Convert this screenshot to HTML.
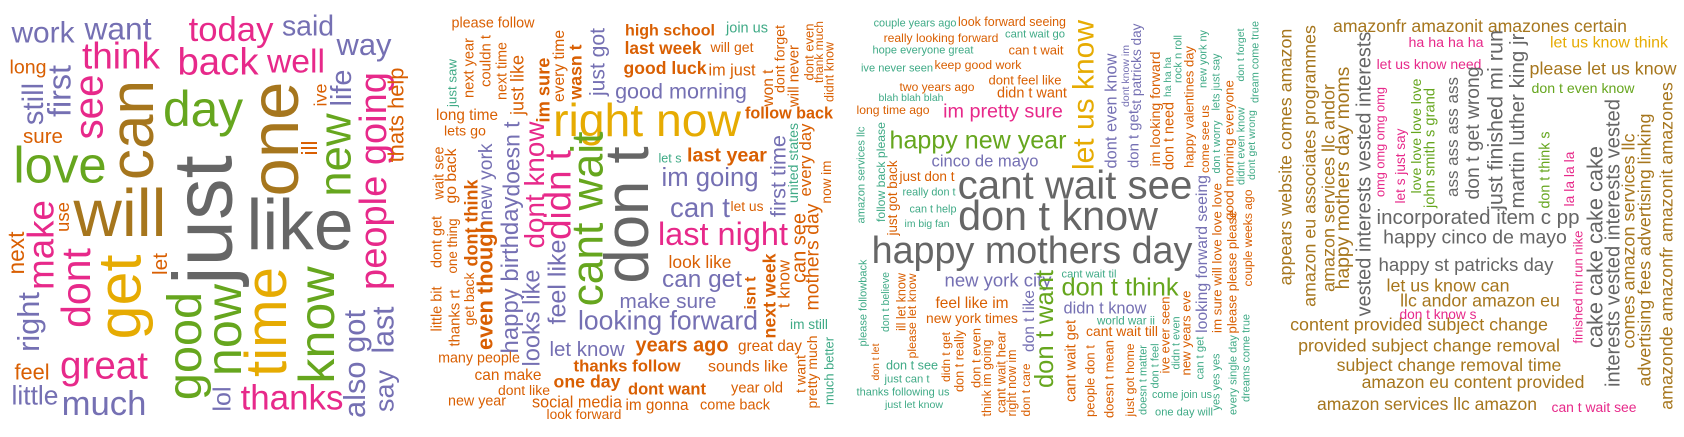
<!DOCTYPE html>
<html>
<head>
<meta charset="utf-8">
<style>
  html,body{margin:0;padding:0;background:#fff;}
  #wc{position:relative;width:1684px;height:437px;overflow:hidden;background:#fff;font-family:"Liberation Sans",Arial,sans-serif;}
  .w{position:absolute;white-space:nowrap;line-height:1;transform-origin:50% 50%;}
</style>
</head>
<body>
<div id="wc"></div>
<script>
const palette = {G:"#666666",B:"#A6761D",Y:"#E6AB02",N:"#66A61E",P:"#E7298A",U:"#7570B3",O:"#D95F02",T:"#3FAA86"};
// [text, centerX, centerY, lengthPx, color, vertical, bold]
const panel1Words = [
["work",43,36,63,"U",0],["want",118,32,67,"U",0],["think",121,60,78,"P",0],["today",231,33,85,"P",0],
["said",308,29,52,"U",0],["way",364,48,55,"U",0],["back",218,66,81,"P",0],["well",296,65,58,"P",0],
["long",28,70,37,"O",0],["still",37,104,42,"U",1],["first",62,91,52,"U",1],["see",92,107,65,"P",1],
["can",138,130,100,"B",1],["day",203,114,80,"N",0],["one",281,139,115,"B",1],["ive",323,95,23,"O",1],
["life",345,88,37,"U",1],["people going",377,181,218,"P",1],["thats help",398,115,95,"O",1],["ill",312,148,15,"O",1],
["new",339,155,83,"N",1],["love",60,170,93,"N",0],["sure",43,139,40,"O",0],["just",210,220,130,"G",1],
["like",300,232,107,"G",0],["will",120,220,93,"B",0],["use",65,217,30,"O",1],["make",45,245,90,"P",1],
["next",18,253,43,"O",1],["dont",80,288,80,"P",1],["get",125,297,85,"Y",1],["let",163,264,22,"O",1],
["right",32,322,60,"U",1],["good",189,346,108,"N",1],["now",228,330,92,"N",1],["time",272,322,110,"Y",1],
["know",321,325,117,"N",1],["also got",358,364,108,"U",1],["last",387,330,47,"U",1],["say",387,391,42,"U",1],
["great",104,370,88,"P",0],["feel",32,374,35,"O",0],["little",35,398,47,"U",0],["much",104,407,85,"U",0],
["lol",225,399,25,"U",1],["thanks",292,402,103,"P",0]
];
const panel2Words = [
["please follow",493,25,83,"O",0],["just saw",453,83,48,"T",1],["next year",471,68,60,"O",1],["couldn t",488,61,52,"O",1],
["next time",504,71,58,"O",1],["just like",519,85,60,"O",1],["long time",467,117,62,"O",0],["lets go",465,133,42,"O",0],
["im sure",545,90,65,"O",1,1],["every time",561,66,72,"O",1],["wasn t",578,72,55,"O",1,1],["just got",600,62,68,"U",1],
["high school",670,32,90,"O",0,1],["join us",747,30,42,"T",0],["last week",663,50,77,"O",0,1],["will get",732,48,43,"O",0],
["good luck",665,70,83,"O",0,1],["im just",732,72,47,"O",0],["won t",770,88,37,"O",1],["dont forget",782,59,68,"O",1],
["good morning",681,93,132,"U",0],["right now",647,124,188,"Y",0],["follow back",789,115,88,"O",0,1],
["wait see",441,173,53,"O",1],["go back",453,176,55,"O",1],["dont think",473,223,87,"O",1,1],["new york",488,182,77,"U",1],
["doesn t",514,159,75,"U",1],["happy birthday",513,275,157,"U",1],["dont know",537,185,127,"P",1],["didn t",562,195,90,"P",1],
["feel like",560,282,85,"U",1],["cant wait",592,219,175,"N",1],["don t",633,215,137,"G",1],["little bit",439,309,45,"O",1],
["dont get",439,242,52,"O",1],["one thing",454,246,55,"O",1],["thanks rt",457,318,57,"O",1],["get back",470,299,53,"O",1],
["even though",487,285,130,"O",1,1],["looks like",535,318,97,"U",1],["let s",670,160,23,"T",0],["last year",727,158,80,"O",0,1],
["im going",710,181,97,"U",0],["can t",700,210,60,"U",0],["let us",747,208,33,"O",0],["first time",780,176,82,"U",1],
["last night",723,237,130,"P",0],["look like",700,264,63,"O",0],["can get",702,282,80,"U",0],["isn t",752,293,33,"O",1,1],
["next week",772,296,85,"O",1,1],["t know",786,284,48,"O",1],["make sure",668,304,97,"U",0],["looking forward",668,323,180,"U",0],
["let know",587,352,75,"U",0],["years ago",682,348,93,"O",0,1],["thanks follow",627,368,107,"O",0,1],["sounds like",748,369,80,"O",0],
["many people",479,360,82,"O",0],["can make",508,377,67,"O",0],["one day",587,384,67,"O",0,1],["dont like",524,391,52,"O",0],
["dont want",667,391,78,"O",0,1],["year old",757,390,52,"O",0],["new year",477,403,58,"O",0],["social media",577,404,90,"O",0],
["look forward",584,416,75,"O",0],["im gonna",657,407,63,"O",0],["come back",735,407,70,"O",0]
];
const panel3Words = [
["will never",796,76,62,"O",1],["dont even",810,52,57,"O",1],["thank much",820,52,62,"O",1],["didnt know",831,72,60,"O",1],
["united states",794,163,80,"T",1],["every day",808,160,73,"O",1],["now im",828,182,43,"O",1],["can see",801,248,70,"O",1],
["mothers day",815,257,107,"O",1],["im still",809,326,38,"T",0],["great day",770,348,64,"O",0],["t want",803,374,38,"O",1],
["pretty much",813,372,73,"O",1],["much better",831,371,68,"T",1],
["couple years ago",915,25,83,"T",0],["look forward seeing",1012,23,108,"O",0],["really looking forward",941,39,115,"O",0],
["cant wait go",1035,36,60,"T",0],["hope everyone great",923,52,101,"T",0],["can t wait",1036,51,55,"O",0],
["ive never seen",897,70,72,"T",0],["keep good work",978,66,87,"O",0],["dont feel like",1025,81,73,"O",0],
["two years ago",937,88,75,"O",0],["didn t want",1032,95,70,"O",0],["blah blah blah",911,100,65,"T",0],
["long time ago",893,111,73,"O",0],["im pretty sure",1003,114,120,"P",0],["let us know",1087,95,150,"Y",1],
["dont even know",1113,111,115,"U",1],["dont know im",1127,76,62,"U",1],["st patricks day",1138,67,87,"U",1],
["don t get",1136,139,58,"U",1],["im looking forward",1157,109,115,"O",1],["ha ha ha",1170,77,40,"T",1],
["rock n roll",1180,59,48,"T",1],["don t need",1171,136,68,"O",1],["happy new year",978,143,177,"N",0],
["cinco de mayo",985,163,107,"U",0],["amazon services llc",863,175,97,"T",1],["follow back please",882,172,100,"T",1],
["just got back",894,198,75,"O",1],["just don t",927,178,55,"O",0],["really don t",929,194,53,"T",0],
["can t help",933,211,47,"T",0],["im big fan",927,226,45,"T",0],["cant wait see",1075,189,235,"G",0],
["don t know",1058,220,200,"G",0],["happy mothers day",1032,254,321,"G",0],["please followback",865,303,87,"T",1],
["don t believe",887,302,60,"T",1],["ill let know",903,302,58,"O",1],["please let know",913,316,85,"O",1],
["new york city",998,282,107,"U",0],["feel like im",972,305,73,"O",0],["new york times",972,320,92,"O",0],
["don t let",878,362,37,"O",1],["don t see",912,367,52,"T",0],["just can t",907,381,45,"T",0],
["thanks following us",903,394,93,"T",0],["just let know",914,406,58,"T",0],["didn t get",947,357,50,"O",1],
["don t really",961,361,62,"O",1],["don t even",978,358,60,"O",1],["think im going",988,378,77,"O",1],
["cant wait hear",1002,372,82,"O",1],["right now im",1013,383,67,"O",1],["don t like",1031,321,62,"U",1],
["don t care",1028,390,53,"O",1],["don t want",1048,329,118,"N",1],["cant wait til",1089,276,55,"T",0],
["don t think",1120,290,117,"N",0],["didn t know",1105,310,83,"U",0],["world war ii",1126,322,58,"T",0],
["cant wait till",1122,333,72,"O",0],["cant wait get",1073,361,82,"O",1],["people don t",1091,381,72,"O",1],
["doesn t mean",1111,379,78,"O",1],["just got home",1131,380,73,"O",1],["doesn t matter",1145,380,70,"T",1],
["don t feel",1157,366,45,"T",1],["ive ever seen",1167,335,77,"O",1],["didn t even",1178,343,53,"T",1],
["come join us",1182,396,60,"T",0],["one day will",1184,414,58,"T",0]
];
const panel4Words = [
["happy valentines day",1190,107,122,"O",1],["new york ny",1205,59,58,"T",1],["come see us",1206,139,68,"O",1],
["lets just say",1218,82,57,"T",1],["don t worry",1218,147,53,"T",1],["good morning everyone",1230,150,140,"O",1],
["don t forget",1243,55,53,"T",1],["didnt even know",1243,146,78,"T",1],["dream come true",1257,62,82,"T",1],
["dont get wrong",1253,145,70,"T",1],["couple weeks ago",1249,238,97,"O",1],["please please please",1233,272,123,"O",1],
["looking forward seeing",1204,254,158,"U",1],["im sure will love love love",1218,258,150,"O",1],["new years eve",1187,333,85,"O",1],
["can t get",1202,358,43,"T",1],["yes yes yes",1218,382,57,"T",1],["every single day",1235,375,80,"T",1],
["dreams come true",1248,358,88,"T",1],
["appears website comes amazon",1288,157,257,"B",1],["amazon eu associates programmes",1312,166,282,"B",1],
["amazon services llc andor",1330,188,208,"B",1],["happy mothers day moms",1345,178,223,"B",1],
["vested interests vested interests",1367,174,285,"G",1],["amazonfr amazonit amazones certain",1480,28,294,"B",0],
["ha ha ha ha",1446,44,75,"P",0],["let us know think",1609,45,118,"Y",0],["let us know need",1429,65,105,"P",0],
["please let us know",1603,71,147,"B",0],["don t even know",1583,89,103,"N",0],["omg omg omg omg",1382,142,110,"P",1],
["let s just say",1402,166,75,"P",1],["love love love love",1417,136,115,"N",1],["john smith s grand",1432,148,120,"N",1],
["ass ass ass ass",1454,137,120,"G",1],["don t get wrong",1475,133,133,"G",1],["just finished mi run",1497,120,180,"G",1],
["martin luther king jr",1520,121,175,"G",1],["don t think s",1547,170,77,"N",1],["la la la la",1571,179,55,"P",1],
["finished mi run nike",1579,287,113,"P",1],["cake cake cake cake",1597,247,202,"G",1],
["interests vested interests vested",1615,243,288,"G",1],["comes amazon services llc",1630,241,215,"B",1],
["advertising fees advertising linking",1647,250,273,"B",1],["amazonde amazonfr amazonit amazones",1669,246,328,"B",1],
["incorporated item c pp",1478,220,203,"G",0],["happy cinco de mayo",1475,240,184,"G",0],
["happy st patricks day",1466,267,175,"G",0],["let us know can",1448,288,123,"B",0],["llc andor amazon eu",1480,303,160,"B",0],
["don t know s",1438,316,77,"P",0],["content provided subject change",1419,327,258,"B",0],
["provided subject change removal",1429,348,262,"B",0],["subject change removal time",1449,367,225,"B",0],
["amazon eu content provided",1473,384,223,"B",0],["amazon services llc amazon",1427,406,220,"B",0],
["can t wait see",1594,409,85,"P",0]
];
const panels = [panel1Words, panel2Words, panel3Words, panel4Words];
const root = document.getElementById('wc');
panels.forEach(function(words, pi){
  const g = document.createElement('div');
  
  
  root.appendChild(g);
  words.forEach(function(w){
    const el = document.createElement('div');
    el.className = 'w';
    el.textContent = w[0];
    
    
    el.style.color = palette[w[4]];
    if (w[6]) el.style.fontWeight = 'bold';
    el.style.fontSize = '100px';
    g.appendChild(el);
    const mw = el.offsetWidth || 1;
    const fs = 100 * w[3] / mw;
    el.style.fontSize = fs.toFixed(2) + 'px';
    el.style.left = w[1] + 'px';
    el.style.top = w[2] + 'px';
    el.style.transform = 'translate(-50%,-50%)' + (w[5] ? ' rotate(-90deg)' : '') + ' translate(0,-0.08em)';
  });
});
</script>
</body>
</html>
